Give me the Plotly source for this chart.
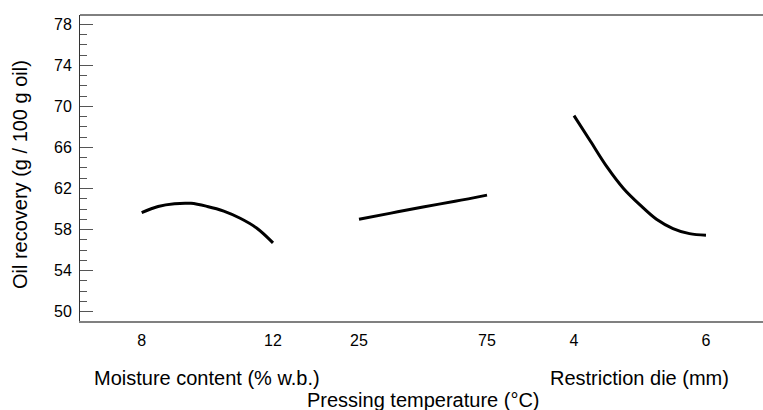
import plotly.graph_objects as go

# Data
moisture_x = [8, 8.5, 9, 9.5, 10, 10.5, 11, 11.5, 12]
moisture_y = [59.65, 60.25, 60.52, 60.55, 60.25, 59.8, 59.1, 58.15, 56.7]

temp_x = [25, 37.5, 50, 62.5, 75]
temp_y = [59.0, 59.6, 60.2, 60.75, 61.35]

die_x = [4, 4.25, 4.5, 4.75, 5, 5.25, 5.5, 5.75, 6]
die_y = [69.1, 66.6, 64.1, 62.0, 60.4, 59.0, 58.1, 57.6, 57.45]

moisture_ticks = [8, 12]
temp_ticks = [25, 75]
die_ticks = [4, 6]
y_ticks = [50, 54, 58, 62, 66, 70, 74, 78]

FONT = "Arial, 'Liberation Sans', sans-serif"
line = dict(color="black", width=3, shape="spline")

fig = go.Figure()
fig.add_trace(go.Scatter(x=moisture_x, y=moisture_y, mode="lines", line=line, xaxis="x", yaxis="y"))
fig.add_trace(go.Scatter(x=temp_x, y=temp_y, mode="lines", line=line, xaxis="x2", yaxis="y"))
fig.add_trace(go.Scatter(x=die_x, y=die_y, mode="lines", line=line, xaxis="x3", yaxis="y"))

tickfont = dict(family=FONT, size=16, color="black")
xcommon = dict(ticks="", showgrid=False, zeroline=False, tickfont=tickfont, fixedrange=True)

yrange = [49.09, 78.9]
title_font = dict(family=FONT, size=20, color="black")

fig.update_layout(
    width=763, height=410,
    margin=dict(l=80, r=0, t=15, b=89),
    paper_bgcolor="white", plot_bgcolor="white",
    showlegend=False,
    font=dict(family=FONT, color="black"),
    xaxis=dict(range=[6.121, 26.925], tickvals=moisture_ticks, showline=True,
               linecolor="#808080", linewidth=2, anchor="y", ticklabelstandoff=4, **xcommon),
    xaxis2=dict(range=[-83.98, 182.8], tickvals=temp_ticks, overlaying="x", side="bottom",
                anchor="y", showline=False, ticklabelstandoff=8, **xcommon),
    xaxis3=dict(range=[-3.485, 6.864], tickvals=die_ticks, overlaying="x", side="bottom",
                anchor="y", showline=False, ticklabelstandoff=8, **xcommon),
    yaxis=dict(range=yrange, tickvals=y_ticks, ticks="inside", ticklen=13, tickwidth=1,
               tickcolor="#555", showline=True, linecolor="#333", linewidth=1,
               showgrid=False, zeroline=False, tickfont=tickfont, ticklabelstandoff=4,
               fixedrange=True,
               minor=dict(dtick=1, tick0=50, ticks="inside", ticklen=7, tickcolor="#555", showgrid=False)),
    yaxis2=dict(range=yrange, tickvals=y_ticks, overlaying="y", side="right", anchor="x",
                ticks="inside", ticklen=7, tickcolor="#555", showline=False, showgrid=False,
                zeroline=False, showticklabels=False, fixedrange=True,
                minor=dict(dtick=1, tick0=50, ticks="inside", ticklen=2, tickcolor="#555", showgrid=False)),
    shapes=[dict(type="line", xref="paper", yref="paper", x0=0, x1=1, y0=1, y1=1,
                 line=dict(color="black", width=1))],
    annotations=[
        dict(text="Moisture content (% w.b.)", xref="x", yref="paper", x=10, y=-0.186,
             showarrow=False, xanchor="center", yanchor="middle", font=title_font),
        dict(text="Pressing temperature (°C)", xref="x2", yref="paper", x=50, y=-0.258,
             showarrow=False, xanchor="center", yanchor="middle", font=title_font),
        dict(text="Restriction die (mm)", xref="x3", yref="paper", x=5, y=-0.186,
             showarrow=False, xanchor="center", yanchor="middle", font=title_font),
        dict(text="Oil recovery (g / 100 g oil)", xref="paper", yref="paper", x=-0.0878, y=0.477,
             textangle=-90, showarrow=False, xanchor="center", yanchor="middle",
             font=dict(family=FONT, size=20, color="black")),
    ],
)

fig.write_html("out.html", config={"displayModeBar": False},
               post_script="document.body.style.margin='0';")
